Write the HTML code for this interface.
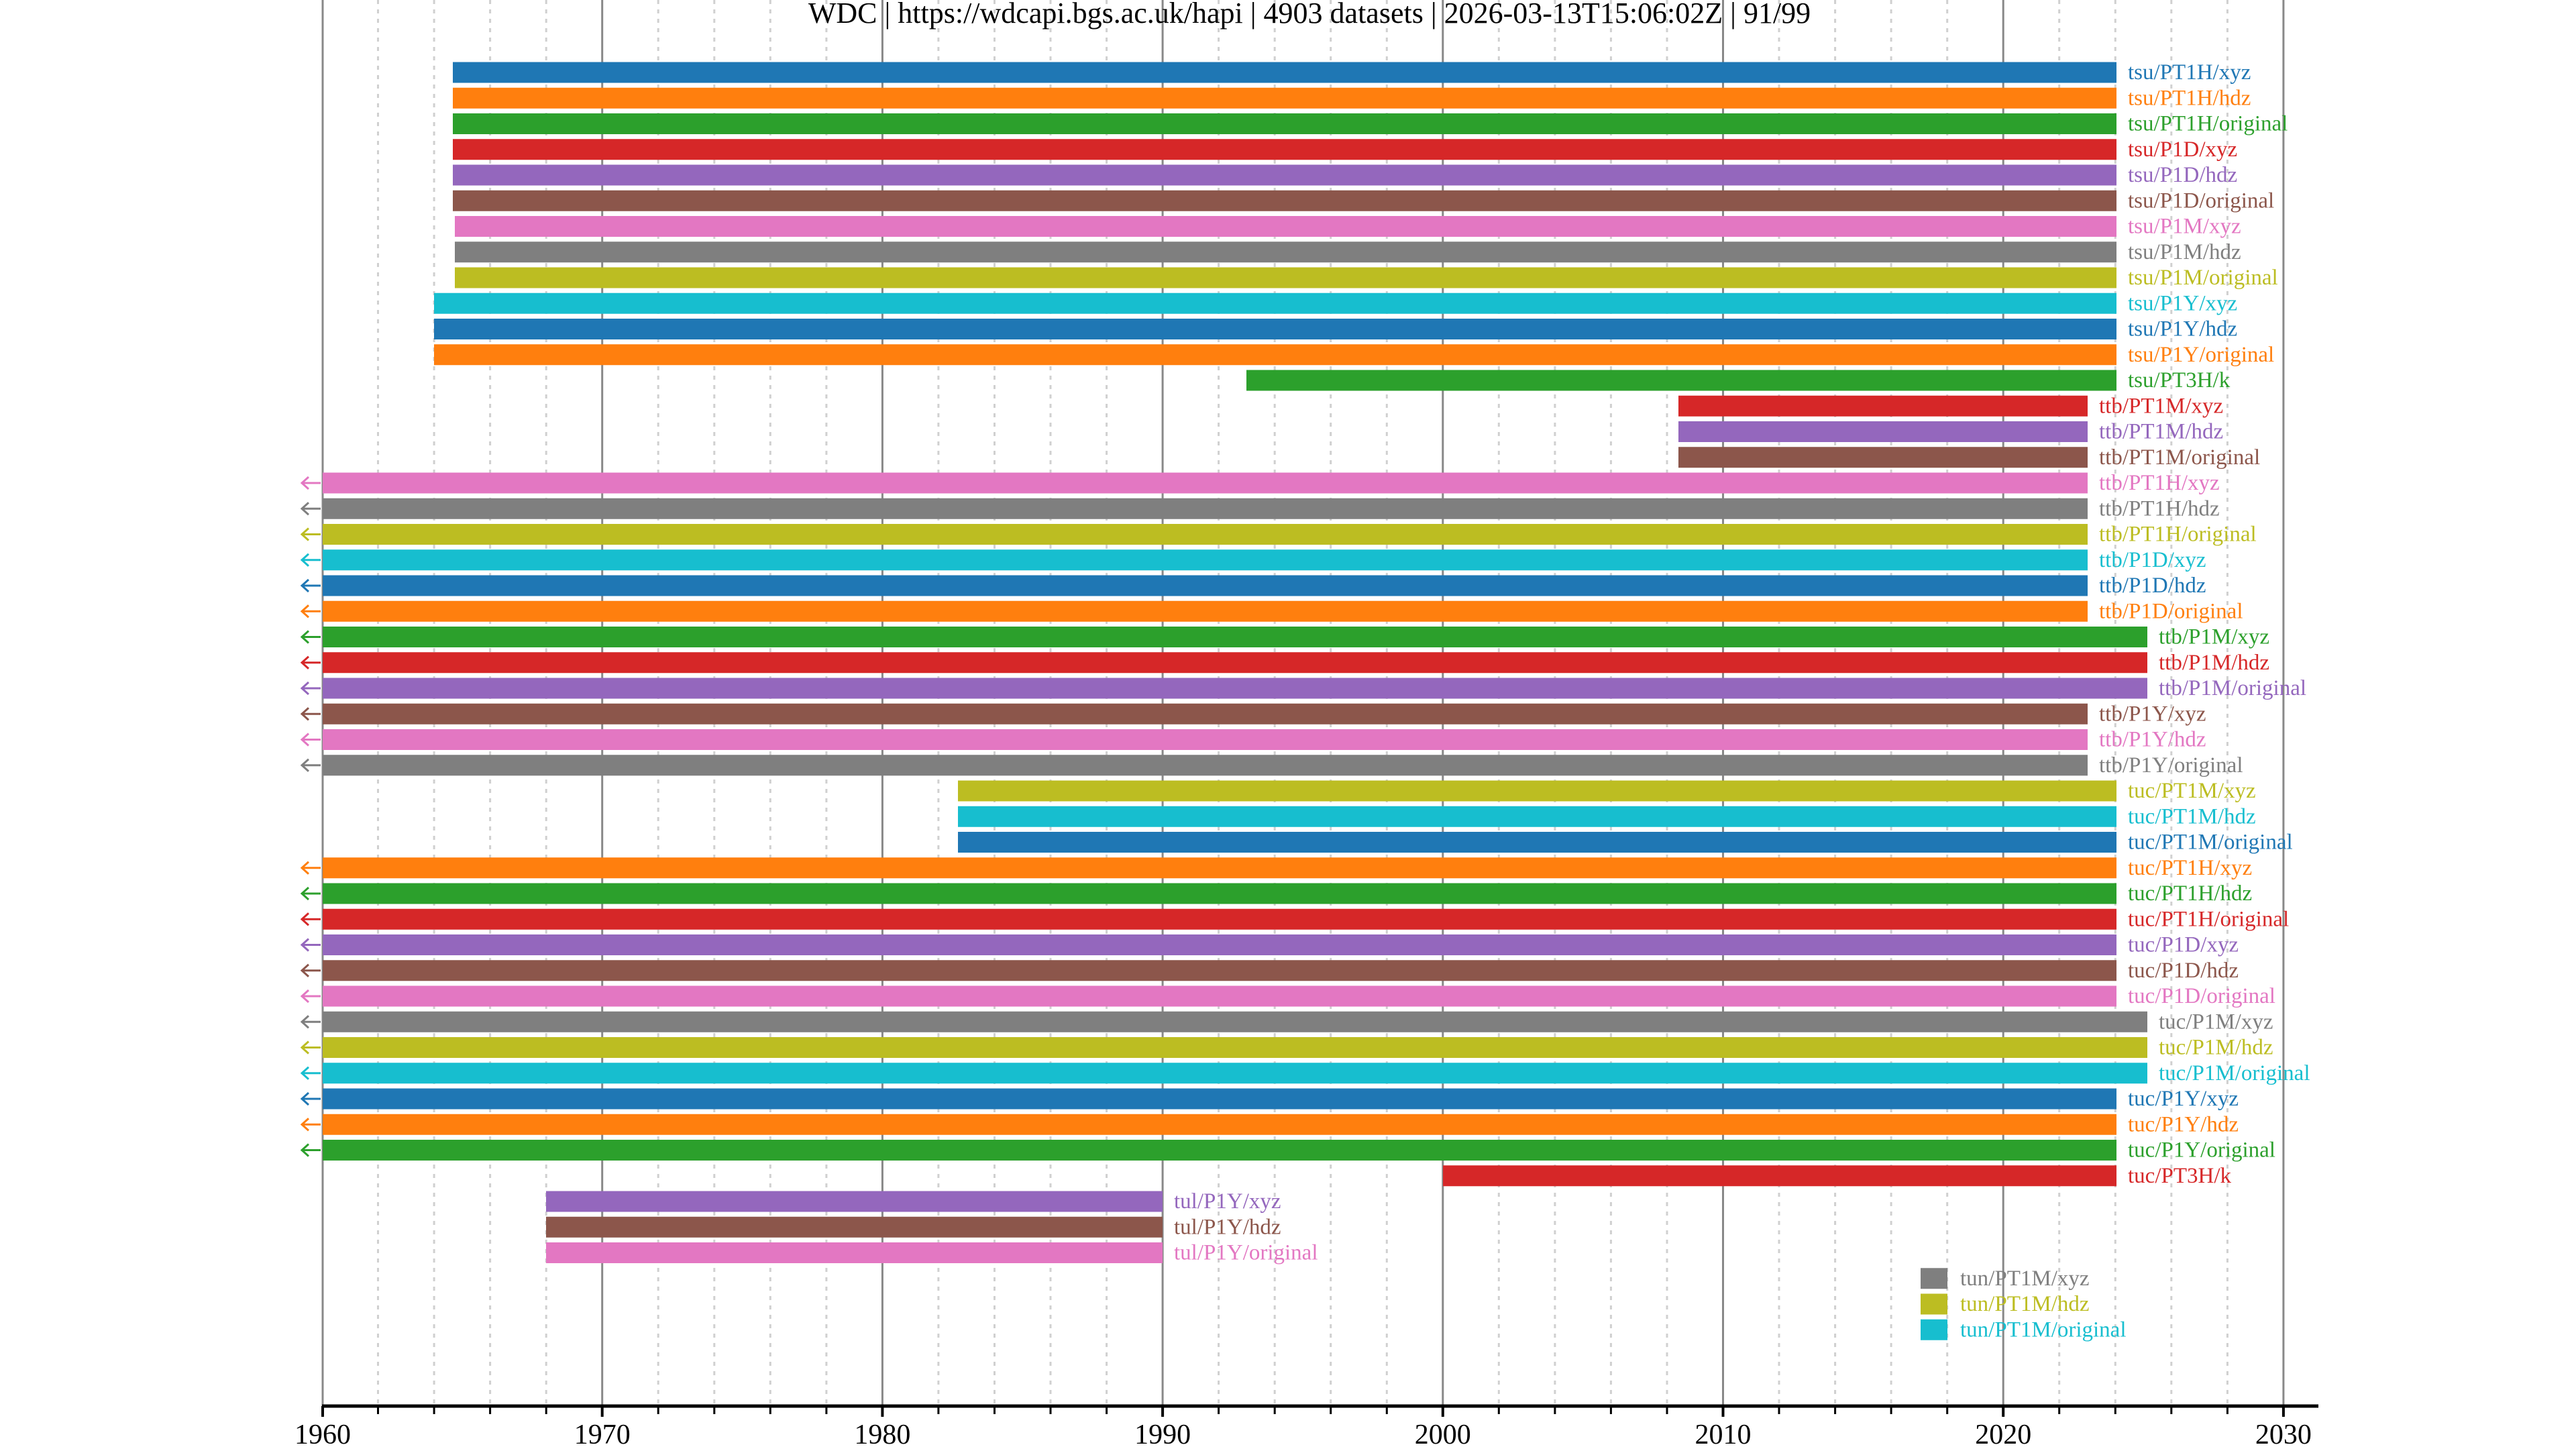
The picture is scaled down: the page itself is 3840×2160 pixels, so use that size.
<!DOCTYPE html>
<html><head><meta charset="utf-8"><style>html,body{margin:0;padding:0;background:#fff}svg{display:block}text{font-family:"Liberation Serif",serif}</style></head><body>
<svg width="3840" height="2160" viewBox="0 0 3840 2160" xmlns="http://www.w3.org/2000/svg">
<g stroke="#d0d0d0" stroke-width="3" stroke-dasharray="6,8">
<path d="M563.5 0V2096M647.1 0V2096M730.6 0V2096M814.2 0V2096M981.2 0V2096M1064.8 0V2096M1148.3 0V2096M1231.9 0V2096M1398.9 0V2096M1482.5 0V2096M1566 0V2096M1649.6 0V2096M1816.6 0V2096M1900.2 0V2096M1983.7 0V2096M2067.3 0V2096M2234.3 0V2096M2317.9 0V2096M2401.4 0V2096M2485 0V2096M2652 0V2096M2735.6 0V2096M2819.1 0V2096M2902.7 0V2096M3069.7 0V2096M3153.3 0V2096M3236.8 0V2096M3320.4 0V2096"/>
</g>
<g stroke="#888" stroke-width="3">
<path d="M481 0V2096M897.7 0V2096M1315.4 0V2096M1733.1 0V2096M2150.8 0V2096M2568.5 0V2096M2986.2 0V2096M3403.9 0V2096"/>
</g>
<text x="1952" y="34" font-size="44" text-anchor="middle">WDC | https://wdcapi.bgs.ac.uk/hapi | 4903 datasets | 2026-03-13T15:06:02Z | 91/99</text>
<g font-size="33" dominant-baseline="central">
<g fill="#1f77b4"><rect x="675" y="92.5" width="2480" height="31"/><text x="3172" y="108">tsu/PT1H/xyz</text></g>
<g fill="#ff7f0e"><rect x="675" y="130.75" width="2480" height="31"/><text x="3172" y="146.25">tsu/PT1H/hdz</text></g>
<g fill="#2ca02c"><rect x="675" y="169" width="2480" height="31"/><text x="3172" y="184.5">tsu/PT1H/original</text></g>
<g fill="#d62728"><rect x="675" y="207.25" width="2480" height="31"/><text x="3172" y="222.75">tsu/P1D/xyz</text></g>
<g fill="#9467bd"><rect x="675" y="245.5" width="2480" height="31"/><text x="3172" y="261">tsu/P1D/hdz</text></g>
<g fill="#8c564b"><rect x="675" y="283.75" width="2480" height="31"/><text x="3172" y="299.25">tsu/P1D/original</text></g>
<g fill="#e377c2"><rect x="678" y="322" width="2477" height="31"/><text x="3172" y="337.5">tsu/P1M/xyz</text></g>
<g fill="#7f7f7f"><rect x="678" y="360.25" width="2477" height="31"/><text x="3172" y="375.75">tsu/P1M/hdz</text></g>
<g fill="#bcbd22"><rect x="678" y="398.5" width="2477" height="31"/><text x="3172" y="414">tsu/P1M/original</text></g>
<g fill="#17becf"><rect x="647" y="436.75" width="2508" height="31"/><text x="3172" y="452.25">tsu/P1Y/xyz</text></g>
<g fill="#1f77b4"><rect x="647" y="475" width="2508" height="31"/><text x="3172" y="490.5">tsu/P1Y/hdz</text></g>
<g fill="#ff7f0e"><rect x="647" y="513.25" width="2508" height="31"/><text x="3172" y="528.75">tsu/P1Y/original</text></g>
<g fill="#2ca02c"><rect x="1858" y="551.5" width="1297" height="31"/><text x="3172" y="567">tsu/PT3H/k</text></g>
<g fill="#d62728"><rect x="2502" y="589.75" width="610" height="31"/><text x="3129" y="605.25">ttb/PT1M/xyz</text></g>
<g fill="#9467bd"><rect x="2502" y="628" width="610" height="31"/><text x="3129" y="643.5">ttb/PT1M/hdz</text></g>
<g fill="#8c564b"><rect x="2502" y="666.25" width="610" height="31"/><text x="3129" y="681.75">ttb/PT1M/original</text></g>
<g fill="#e377c2"><rect x="481" y="704.5" width="2631" height="31"/><text x="3129" y="720">ttb/PT1H/xyz</text></g>
<g fill="#7f7f7f"><rect x="481" y="742.75" width="2631" height="31"/><text x="3129" y="758.25">ttb/PT1H/hdz</text></g>
<g fill="#bcbd22"><rect x="481" y="781" width="2631" height="31"/><text x="3129" y="796.5">ttb/PT1H/original</text></g>
<g fill="#17becf"><rect x="481" y="819.25" width="2631" height="31"/><text x="3129" y="834.75">ttb/P1D/xyz</text></g>
<g fill="#1f77b4"><rect x="481" y="857.5" width="2631" height="31"/><text x="3129" y="873">ttb/P1D/hdz</text></g>
<g fill="#ff7f0e"><rect x="481" y="895.75" width="2631" height="31"/><text x="3129" y="911.25">ttb/P1D/original</text></g>
<g fill="#2ca02c"><rect x="481" y="934" width="2720" height="31"/><text x="3218" y="949.5">ttb/P1M/xyz</text></g>
<g fill="#d62728"><rect x="481" y="972.25" width="2720" height="31"/><text x="3218" y="987.75">ttb/P1M/hdz</text></g>
<g fill="#9467bd"><rect x="481" y="1010.5" width="2720" height="31"/><text x="3218" y="1026">ttb/P1M/original</text></g>
<g fill="#8c564b"><rect x="481" y="1048.75" width="2631" height="31"/><text x="3129" y="1064.25">ttb/P1Y/xyz</text></g>
<g fill="#e377c2"><rect x="481" y="1087" width="2631" height="31"/><text x="3129" y="1102.5">ttb/P1Y/hdz</text></g>
<g fill="#7f7f7f"><rect x="481" y="1125.25" width="2631" height="31"/><text x="3129" y="1140.75">ttb/P1Y/original</text></g>
<g fill="#bcbd22"><rect x="1428" y="1163.5" width="1727" height="31"/><text x="3172" y="1179">tuc/PT1M/xyz</text></g>
<g fill="#17becf"><rect x="1428" y="1201.75" width="1727" height="31"/><text x="3172" y="1217.25">tuc/PT1M/hdz</text></g>
<g fill="#1f77b4"><rect x="1428" y="1240" width="1727" height="31"/><text x="3172" y="1255.5">tuc/PT1M/original</text></g>
<g fill="#ff7f0e"><rect x="481" y="1278.25" width="2674" height="31"/><text x="3172" y="1293.75">tuc/PT1H/xyz</text></g>
<g fill="#2ca02c"><rect x="481" y="1316.5" width="2674" height="31"/><text x="3172" y="1332">tuc/PT1H/hdz</text></g>
<g fill="#d62728"><rect x="481" y="1354.75" width="2674" height="31"/><text x="3172" y="1370.25">tuc/PT1H/original</text></g>
<g fill="#9467bd"><rect x="481" y="1393" width="2674" height="31"/><text x="3172" y="1408.5">tuc/P1D/xyz</text></g>
<g fill="#8c564b"><rect x="481" y="1431.25" width="2674" height="31"/><text x="3172" y="1446.75">tuc/P1D/hdz</text></g>
<g fill="#e377c2"><rect x="481" y="1469.5" width="2674" height="31"/><text x="3172" y="1485">tuc/P1D/original</text></g>
<g fill="#7f7f7f"><rect x="481" y="1507.75" width="2720" height="31"/><text x="3218" y="1523.25">tuc/P1M/xyz</text></g>
<g fill="#bcbd22"><rect x="481" y="1546" width="2720" height="31"/><text x="3218" y="1561.5">tuc/P1M/hdz</text></g>
<g fill="#17becf"><rect x="481" y="1584.25" width="2720" height="31"/><text x="3218" y="1599.75">tuc/P1M/original</text></g>
<g fill="#1f77b4"><rect x="481" y="1622.5" width="2674" height="31"/><text x="3172" y="1638">tuc/P1Y/xyz</text></g>
<g fill="#ff7f0e"><rect x="481" y="1660.75" width="2674" height="31"/><text x="3172" y="1676.25">tuc/P1Y/hdz</text></g>
<g fill="#2ca02c"><rect x="481" y="1699" width="2674" height="31"/><text x="3172" y="1714.5">tuc/P1Y/original</text></g>
<g fill="#d62728"><rect x="2151" y="1737.25" width="1004" height="31"/><text x="3172" y="1752.75">tuc/PT3H/k</text></g>
<g fill="#9467bd"><rect x="814" y="1775.5" width="919" height="31"/><text x="1750" y="1791">tul/P1Y/xyz</text></g>
<g fill="#8c564b"><rect x="814" y="1813.75" width="919" height="31"/><text x="1750" y="1829.25">tul/P1Y/hdz</text></g>
<g fill="#e377c2"><rect x="814" y="1852" width="919" height="31"/><text x="1750" y="1867.5">tul/P1Y/original</text></g>
<g fill="#7f7f7f"><rect x="2863" y="1890.25" width="40" height="31"/><text x="2922" y="1905.75">tun/PT1M/xyz</text></g>
<g fill="#bcbd22"><rect x="2863" y="1928.5" width="40" height="31"/><text x="2922" y="1944">tun/PT1M/hdz</text></g>
<g fill="#17becf"><rect x="2863" y="1966.75" width="40" height="31"/><text x="2922" y="1982.25">tun/PT1M/original</text></g>
</g>
<g fill="none" stroke-width="3">
<path stroke="#e377c2" d="M478 720H450M460 711L450 720L460 729"/>
<path stroke="#7f7f7f" d="M478 758.25H450M460 749.25L450 758.25L460 767.25"/>
<path stroke="#bcbd22" d="M478 796.5H450M460 787.5L450 796.5L460 805.5"/>
<path stroke="#17becf" d="M478 834.75H450M460 825.75L450 834.75L460 843.75"/>
<path stroke="#1f77b4" d="M478 873H450M460 864L450 873L460 882"/>
<path stroke="#ff7f0e" d="M478 911.25H450M460 902.25L450 911.25L460 920.25"/>
<path stroke="#2ca02c" d="M478 949.5H450M460 940.5L450 949.5L460 958.5"/>
<path stroke="#d62728" d="M478 987.75H450M460 978.75L450 987.75L460 996.75"/>
<path stroke="#9467bd" d="M478 1026H450M460 1017L450 1026L460 1035"/>
<path stroke="#8c564b" d="M478 1064.25H450M460 1055.25L450 1064.25L460 1073.25"/>
<path stroke="#e377c2" d="M478 1102.5H450M460 1093.5L450 1102.5L460 1111.5"/>
<path stroke="#7f7f7f" d="M478 1140.75H450M460 1131.75L450 1140.75L460 1149.75"/>
<path stroke="#ff7f0e" d="M478 1293.75H450M460 1284.75L450 1293.75L460 1302.75"/>
<path stroke="#2ca02c" d="M478 1332H450M460 1323L450 1332L460 1341"/>
<path stroke="#d62728" d="M478 1370.25H450M460 1361.25L450 1370.25L460 1379.25"/>
<path stroke="#9467bd" d="M478 1408.5H450M460 1399.5L450 1408.5L460 1417.5"/>
<path stroke="#8c564b" d="M478 1446.75H450M460 1437.75L450 1446.75L460 1455.75"/>
<path stroke="#e377c2" d="M478 1485H450M460 1476L450 1485L460 1494"/>
<path stroke="#7f7f7f" d="M478 1523.25H450M460 1514.25L450 1523.25L460 1532.25"/>
<path stroke="#bcbd22" d="M478 1561.5H450M460 1552.5L450 1561.5L460 1570.5"/>
<path stroke="#17becf" d="M478 1599.75H450M460 1590.75L450 1599.75L460 1608.75"/>
<path stroke="#1f77b4" d="M478 1638H450M460 1629L450 1638L460 1647"/>
<path stroke="#ff7f0e" d="M478 1676.25H450M460 1667.25L450 1676.25L460 1685.25"/>
<path stroke="#2ca02c" d="M478 1714.5H450M460 1705.5L450 1714.5L460 1723.5"/>
</g>
<g stroke="#000">
<path d="M480 2096H3456" stroke-width="5"/>
<path stroke-width="3" d="M563.5 2096V2108M647.1 2096V2108M730.6 2096V2108M814.2 2096V2108M981.2 2096V2108M1064.8 2096V2108M1148.3 2096V2108M1231.9 2096V2108M1398.9 2096V2108M1482.5 2096V2108M1566 2096V2108M1649.6 2096V2108M1816.6 2096V2108M1900.2 2096V2108M1983.7 2096V2108M2067.3 2096V2108M2234.3 2096V2108M2317.9 2096V2108M2401.4 2096V2108M2485 2096V2108M2652 2096V2108M2735.6 2096V2108M2819.1 2096V2108M2902.7 2096V2108M3069.7 2096V2108M3153.3 2096V2108M3236.8 2096V2108M3320.4 2096V2108"/>
<path stroke-width="4" d="M481 2096V2112M897.7 2096V2112M1315.4 2096V2112M1733.1 2096V2112M2150.8 2096V2112M2568.5 2096V2112M2986.2 2096V2112M3403.9 2096V2112"/>
</g>
<g font-size="42" text-anchor="middle">
<text x="481" y="2152">1960</text><text x="897.7" y="2152">1970</text><text x="1315.4" y="2152">1980</text><text x="1733.1" y="2152">1990</text><text x="2150.8" y="2152">2000</text><text x="2568.5" y="2152">2010</text><text x="2986.2" y="2152">2020</text><text x="3403.9" y="2152">2030</text>
</g>
</svg>
</body></html>
